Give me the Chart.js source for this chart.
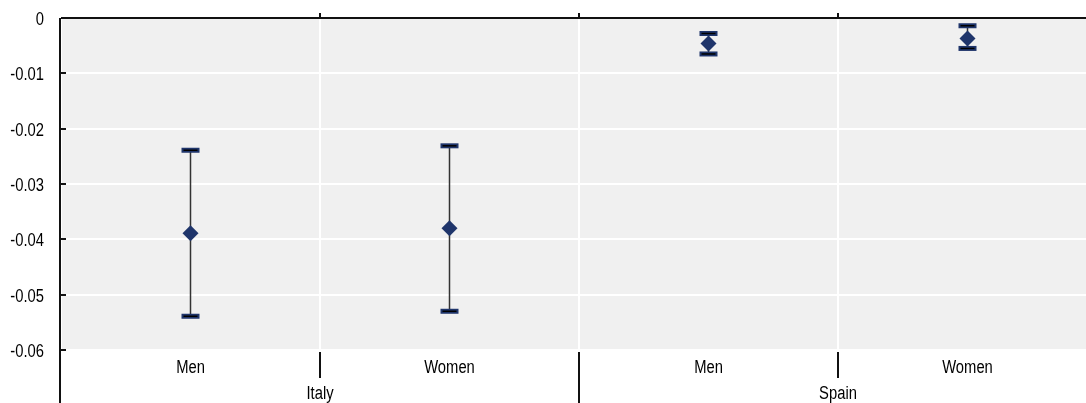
<!DOCTYPE html>
<html>
<head>
<meta charset="utf-8">
<script src="https://cdn.jsdelivr.net/npm/chart.js@4/dist/chart.umd.min.js"></script>
<style>
  html, body { margin: 0; padding: 0; overflow: hidden; background: #fff; }
  canvas { display: block; }
</style>
</head>
<body>
<canvas id="chart" width="1105" height="403"></canvas>
<script>
// data
const groups = ["Italy", "Spain"];
const categories = ["Men", "Women", "Men", "Women"];
const estimate = [-0.0389, -0.0380, -0.0046, -0.0037];
const upper = [-0.0239, -0.0231, -0.0028, -0.0014];
const lower = [-0.0539, -0.0530, -0.0065, -0.0055];
const yMin = -0.06;
const yMax = 0;
const yStep = 0.01;

const FONT = "18px 'Liberation Sans', Arial, sans-serif";
const NAVY = "#1f356b";

const fmtY = (v) => (Math.abs(v) < 1e-9 ? "0" : Number(v).toFixed(2));

// narrow-looking text (Arial Narrow isn't available)
function narrowText(ctx, text, x, y, align) {
  ctx.save();
  ctx.translate(x, y);
  ctx.scale(0.82, 1);
  ctx.textAlign = align;
  ctx.textBaseline = "alphabetic";
  ctx.fillText(text, 0, 0);
  ctx.restore();
}

const frame = {
  id: "frame",
  beforeDraw(chart) {
    const { ctx, chartArea: a } = chart;
    ctx.save();
    ctx.fillStyle = "#f0f0f0";
    ctx.fillRect(a.left, a.top, a.right - a.left, a.bottom - a.top);
    ctx.restore();
  },
  beforeDatasetsDraw(chart) {
    // error bars
    const { ctx } = chart;
    const x = chart.scales.x, y = chart.scales.y;
    ctx.save();
    estimate.forEach((v, i) => {
      const px = x.getPixelForValue(i);
      const yu = y.getPixelForValue(upper[i]);
      const yl = y.getPixelForValue(lower[i]);
      ctx.strokeStyle = "#333";
      ctx.lineWidth = 1.5;
      ctx.beginPath();
      ctx.moveTo(px, yu);
      ctx.lineTo(px, yl);
      ctx.stroke();
      [yu, yl].forEach((cy) => {
        ctx.fillStyle = NAVY;
        ctx.fillRect(px - 9, cy - 2.5, 18, 5);
        ctx.fillStyle = "#000";
        ctx.fillRect(px - 7, cy - 0.75, 14, 1.5);
      });
    });
    ctx.restore();
  },
  afterDraw(chart) {
    const { ctx, chartArea: a } = chart;
    const x = chart.scales.x, y = chart.scales.y;
    ctx.save();
    ctx.strokeStyle = "#111";
    ctx.lineWidth = 2;
    const y0 = y.getPixelForValue(0);
    ctx.beginPath();
    // zero line and left axis
    ctx.moveTo(a.left, y0);
    ctx.lineTo(a.right, y0);
    ctx.moveTo(a.left - 1, a.top);
    ctx.lineTo(a.left - 1, chart.height);
    ctx.stroke();
    // y tick marks inside
    ctx.beginPath();
    for (let v = yMin; v < yMax - 1e-9; v += yStep) {
      const py = Math.round(y.getPixelForValue(v));
      ctx.moveTo(a.left, py);
      ctx.lineTo(a.left + 5, py);
    }
    ctx.stroke();
    // category boundary ticks
    ctx.beginPath();
    for (let i = 1; i < categories.length; i++) {
      const bx = Math.round((x.getPixelForValue(i - 1) + x.getPixelForValue(i)) / 2);
      ctx.moveTo(bx, y0 - 5);
      ctx.lineTo(bx, y0);
      const isGroup = i % 2 === 0;
      ctx.moveTo(bx, a.bottom + 2);
      ctx.lineTo(bx, isGroup ? chart.height : a.bottom + 28);
    }
    ctx.stroke();

    // labels
    ctx.fillStyle = "#000";
    ctx.font = FONT;
    y.ticks.forEach((t) => {
      narrowText(ctx, fmtY(t.value), a.left - 17, y.getPixelForValue(t.value) + 7, "right");
    });
    categories.forEach((c, i) => {
      narrowText(ctx, c, x.getPixelForValue(i), a.bottom + 23, "center");
    });
    groups.forEach((g, gi) => {
      const cx = (x.getPixelForValue(gi * 2) + x.getPixelForValue(gi * 2 + 1)) / 2;
      narrowText(ctx, g, cx, a.bottom + 49, "center");
    });
    ctx.restore();
  }
};

new Chart(document.getElementById("chart"), {
  type: "line",
  data: {
    labels: categories,
    datasets: [{
      data: estimate,
      showLine: false,
      pointStyle: "rectRot",
      pointRadius: 8,
      pointHoverRadius: 8,
      pointBackgroundColor: NAVY,
      pointBorderColor: NAVY,
      pointBorderWidth: 0
    }]
  },
  options: {
    responsive: false,
    animation: false,
    events: [],
    layout: { padding: { top: 18, left: 0, right: 0, bottom: 0 } },
    plugins: { legend: { display: false }, tooltip: { enabled: false } },
    scales: {
      x: {
        type: "category",
        offset: true,
        afterFit(s) { s.height = 53; },
        border: { display: false },
        grid: { offset: true, color: "#fff", lineWidth: 2, drawTicks: false },
        ticks: { display: false }
      },
      y: {
        min: yMin,
        max: yMax,
        afterFit(s) { s.width = 61; },
        border: { display: false },
        grid: { color: "#fff", lineWidth: 2, drawTicks: false },
        ticks: { display: false, stepSize: yStep }
      }
    }
  },
  plugins: [frame]
});
</script>
</body>
</html>
